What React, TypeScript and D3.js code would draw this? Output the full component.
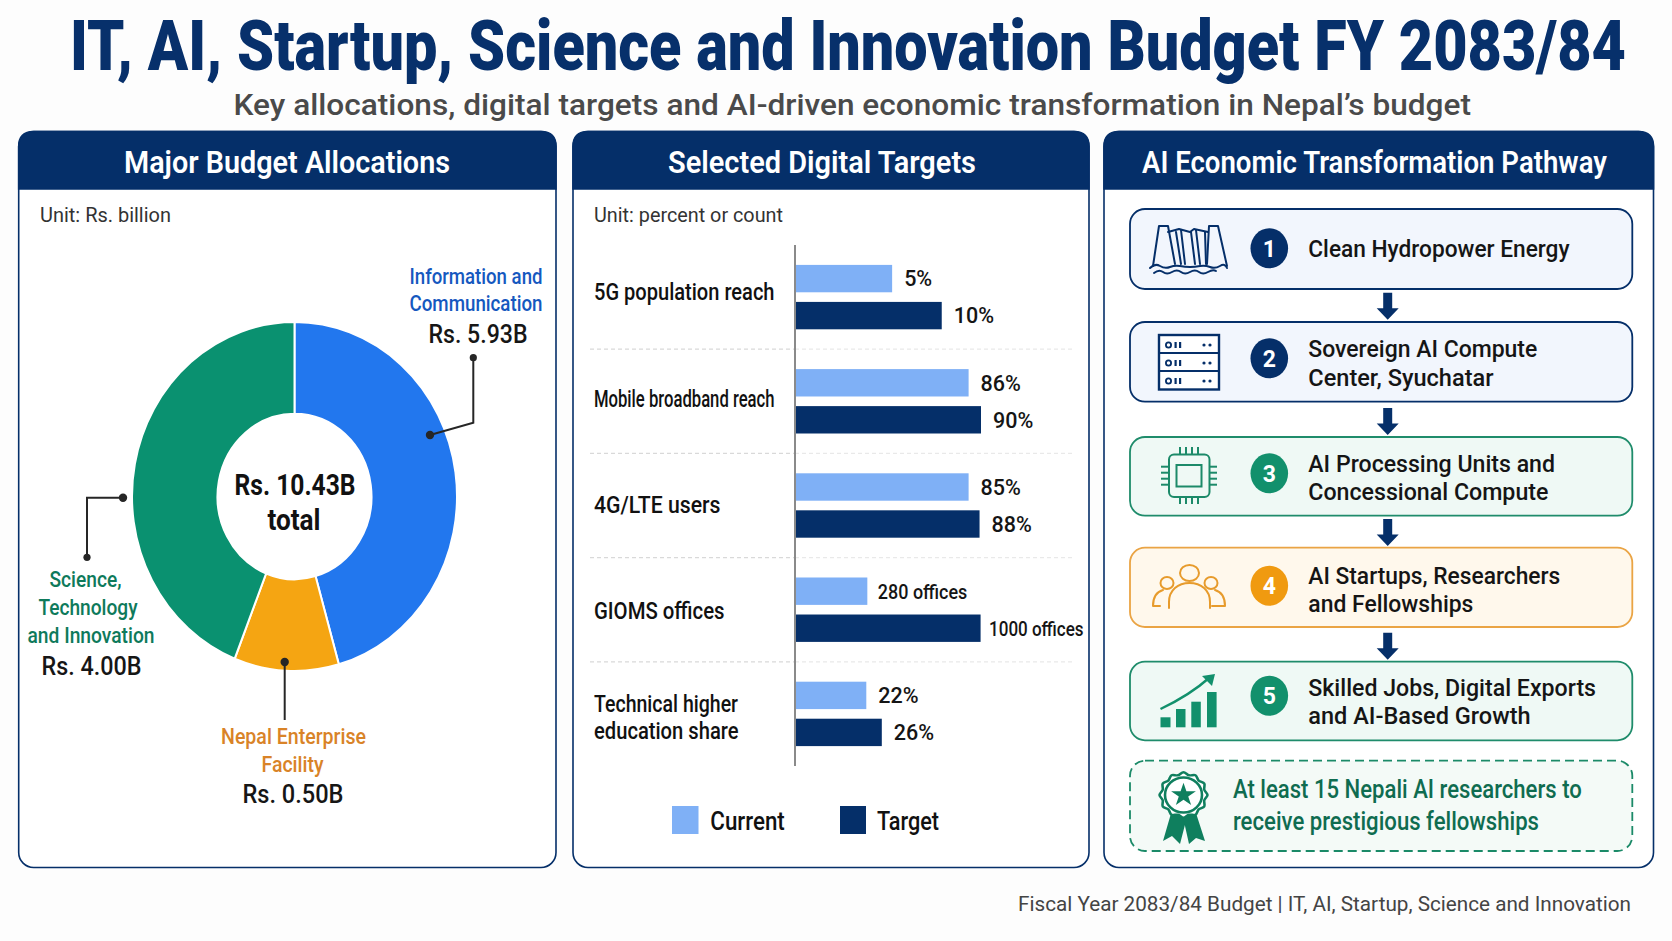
import * as d3 from 'd3';

const NAVY = '#052f69';
const LIGHT = '#7fb0f6';
const BLUE = '#2277ee';
const ORANGE = '#f5a512';
const GREEN = '#0a9170';
const INK = '#161616';
const FONT = 'Roboto, sans-serif';

// donut: the printed amounts, and the slice sizes as drawn in the picture
// (the drawn slices are not proportional to the printed amounts)
const sliceNames = ['Information and Communication', 'Nepal Enterprise Facility', 'Science, Technology and Innovation'];
const sliceAmounts = ['Rs. 5.93B', 'Rs. 0.50B', 'Rs. 4.00B'];
const sliceDrawnShares = [45.6, 10.4, 44.0];
const sliceColors = [BLUE, ORANGE, GREEN];

// bars: printed labels, and bar lengths as drawn in the picture
const categories = ['5G population reach', 'Mobile broadband reach', '4G/LTE users', 'GIOMS offices', 'Technical higher education share'];
const seriesNames = ['Current', 'Target'];
const currentLabels = ['5%', '86%', '85%', '280 offices', '22%'];
const targetLabels = ['10%', '90%', '88%', '1000 offices', '26%'];
const currentDrawn = [47, 84, 84, 35, 34.5];
const targetDrawn = [71, 90, 89.3, 89.8, 42];

const pathwaySteps = [
  ['Clean Hydropower Energy'],
  ['Sovereign AI Compute', 'Center, Syuchatar'],
  ['AI Processing Units and', 'Concessional Compute'],
  ['AI Startups, Researchers', 'and Fellowships'],
  ['Skilled Jobs, Digital Exports', 'and AI-Based Growth'],
];

type TProps = {
  x: number; y: number; w?: number; size: number; weight?: number; fill?: string;
  anchor?: 'start' | 'middle' | 'end'; children: string;
};

const T = ({ x, y, w, size, weight = 500, fill = INK, anchor = 'start', children }: TProps) => (
  <text
    x={x}
    y={y}
    fontFamily={FONT}
    fontSize={size}
    fontWeight={weight}
    fill={fill}
    textAnchor={anchor}
    textLength={w}
    lengthAdjust={w ? 'spacingAndGlyphs' : undefined}
  >
    {children}
  </text>
);

const Panel = ({ x0, x1, title, tx0, tx1 }: { x0: number; x1: number; title: string; tx0: number; tx1: number }) => {
  const top = 131.5;
  const head = 189;
  const bottom = 867.5;
  const r = 15;
  return (
    <g>
      <rect x={x0} y={top} width={x1 - x0} height={bottom - top} rx={r} fill="#fff" stroke={NAVY} strokeWidth={1.6} />
      <path
        d={`M${x0},${head}V${top + r}Q${x0},${top} ${x0 + r},${top}H${x1 - r}Q${x1},${top} ${x1},${top + r}V${head}Z`}
        fill={NAVY}
        stroke={NAVY}
        strokeWidth={1.6}
      />
      <T x={tx0} y={172.5} w={tx1 - tx0} size={32} weight={600} fill="#fff">{title}</T>
    </g>
  );
};

const line = d3.line();

const Callout = ({ pts }: { pts: [number, number][] }) => (
  <g>
    <path d={line(pts) ?? ''} fill="none" stroke="#262626" strokeWidth={2} />
    <circle cx={pts[0][0]} cy={pts[0][1]} r={4.2} fill="#262626" />
    <circle cx={pts[pts.length - 1][0]} cy={pts[pts.length - 1][1]} r={pts.length > 2 ? 3.6 : 0} fill="#262626" />
  </g>
);

const Donut = () => {
  const cx = 294.5;
  const cy = 496.5;
  const pie = d3.pie<number>().value((d) => d).sort(null);
  const arc = d3.arc<d3.PieArcDatum<number>>().innerRadius(77).outerRadius(162.5);
  const arcs = pie(sliceDrawnShares);
  return (
    <g>
      <T x={40} y={221.5} w={131} size={21} weight={400} fill="#333">Unit: Rs. billion</T>
      <g transform={`translate(${cx},${cy}) scale(1,1.074)`}>
        {arcs.map((a, i) => (
          <path key={sliceNames[i]} d={arc(a) ?? ''} fill={sliceColors[i]} stroke="#fff" strokeWidth={2} />
        ))}
      </g>
      <T x={295} y={495} w={121} anchor="middle" size={30} weight={700} fill="#111">Rs. 10.43B</T>
      <T x={294} y={529.5} w={53} anchor="middle" size={30} weight={700} fill="#111">total</T>

      <Callout pts={[[430, 435], [473.3, 422.7], [473.3, 357.7]]} />
      <Callout pts={[[123, 497.7], [87, 497.7], [87, 557.3]]} />
      <Callout pts={[[284.7, 662], [284.7, 720]]} />

      <T x={409.5} y={284} w={133} size={22} fill="#1558bf">Information and</T>
      <T x={409.5} y={311} w={133} size={22} fill="#1558bf">Communication</T>
      <T x={428.5} y={342.5} w={99} size={25.5} fill={INK}>{sliceAmounts[0]}</T>

      <T x={49.5} y={586.7} w={72} size={22} fill="#0e7a5b">Science,</T>
      <T x={38.5} y={615} w={99} size={22} fill="#0e7a5b">Technology</T>
      <T x={27.5} y={643} w={127} size={22} fill="#0e7a5b">and Innovation</T>
      <T x={41.5} y={675} w={100} size={25.5} fill={INK}>{sliceAmounts[2]}</T>

      <T x={221} y={744} w={145} size={22} fill="#d98327">Nepal Enterprise</T>
      <T x={261.5} y={771.7} w={62} size={22} fill="#d98327">Facility</T>
      <T x={242.5} y={803.3} w={101} size={25.5} fill={INK}>{sliceAmounts[1]}</T>
    </g>
  );
};

const Bars = () => {
  const axisX = 795;
  const x = d3.scaleLinear().domain([0, 90]).range([0, 186]);
  const y = d3.scaleBand().domain(categories).range([245, 766]);
  const inner = d3.scaleBand().domain(seriesNames).range([0, 64.4]).paddingInner(0.26);
  const groupPad = (y.bandwidth() - 64.4) / 2;
  const colors = [LIGHT, NAVY];
  const drawn = [currentDrawn, targetDrawn];
  const labels = [currentLabels, targetLabels];

  const catLines = [
    [{ t: '5G population reach', w: 180.5, y: 300 }],
    [{ t: 'Mobile broadband reach', w: 180.5, y: 407 }],
    [{ t: '4G/LTE users', w: 126.5, y: 512.7 }],
    [{ t: 'GIOMS offices', w: 130.5, y: 619 }],
    [{ t: 'Technical higher', w: 144, y: 711.7 }, { t: 'education share', w: 144.5, y: 739.3 }],
  ];
  const dividers = y.domain().slice(1).map((c) => y(c) ?? 0);

  return (
    <g>
      <T x={594} y={221.5} w={189} size={21} weight={400} fill="#333">Unit: percent or count</T>
      {dividers.map((d) => (
        <g key={d}>
          <line x1={590} x2={795} y1={d} y2={d} stroke="#d9d9d9" strokeWidth={1.2} strokeDasharray="4 3" />
          <line x1={795} x2={1075} y1={d} y2={d} stroke="#e9e9e9" strokeWidth={1.2} strokeDasharray="4 3" />
        </g>
      ))}
      {categories.map((c, i) => (
        <g key={c}>
          {catLines[i].map((l) => (
            <T key={l.t} x={594} y={l.y} w={l.w} size={23} fill="#111">{l.t}</T>
          ))}
          {seriesNames.map((s, k) => {
            const top = (y(c) ?? 0) + groupPad + (inner(s) ?? 0);
            const end = axisX + x(drawn[k][i]);
            const label = labels[k][i];
            const isOffice = label.includes('offices');
            return (
              <g key={s}>
                <rect x={axisX} y={top} width={x(drawn[k][i])} height={inner.bandwidth()} fill={colors[k]} />
                <T
                  x={end + (isOffice ? (k === 0 ? 10.5 : 8.5) : 12)}
                  y={top + inner.bandwidth() / 2 + 7.8}
                  w={isOffice ? (k === 0 ? 89.5 : 94.5) : undefined}
                  size={isOffice ? 20.5 : 21.5}
                  fill="#151515"
                >
                  {label}
                </T>
              </g>
            );
          })}
        </g>
      ))}
      <line x1={axisX} x2={axisX} y1={245} y2={766} stroke="#8a8a8a" strokeWidth={2} />
      <rect x={672} y={806} width={26.5} height={28} fill={LIGHT} />
      <T x={710.3} y={830} w={74.5} size={25} fill="#111">{seriesNames[0]}</T>
      <rect x={840} y={806} width={26} height={28} fill={NAVY} />
      <T x={877} y={830} w={62} size={25} fill="#111">{seriesNames[1]}</T>
    </g>
  );
};

const DamIcon = () => (
  <g fill="none" stroke={NAVY} strokeWidth={2} strokeLinejoin="round" strokeLinecap="round">
    <path d="M1153,266 L1159,226 H1168 L1175,264" />
    <path d="M1168,232 L1179,229 L1190,232 L1194,229 L1208,232" />
    <path d="M1227,266 L1218,226 H1209 L1207,264" />
    <path d="M1176,232 L1181,264 M1181,230 L1185,264 M1191,232 L1195,264 M1196,230 L1200,264 M1205,232 L1206,264" />
    <path d="M1150,268 q5,-5 10,-2 t10,1 t10,-1 t10,1 t10,-1 t10,1 t10,-1 t7,2" />
    <path d="M1154,273 q5,-4 9,-1 t9,0 t9,0 t9,0 t9,0 t9,0 t8,-1" />
  </g>
);

const ServerIcon = () => (
  <g>
    <rect x={1159} y={335} width={60} height={54.5} fill="#fff" stroke={NAVY} strokeWidth={2.4} />
    {[0, 1, 2].map((i) => (
      <g key={i} transform={`translate(0,${335 + i * 18})`}>
        {i > 0 && <line x1={1159} x2={1219} y1={0} y2={0} stroke={NAVY} strokeWidth={2.2} />}
        <circle cx={1168.5} cy={10} r={2.6} fill="none" stroke={NAVY} strokeWidth={1.8} />
        <rect x={1174.5} y={7} width={2.2} height={6} fill={NAVY} />
        <rect x={1179} y={7} width={2.2} height={6} fill={NAVY} />
        <circle cx={1204} cy={10} r={1.6} fill={NAVY} />
        <circle cx={1210} cy={10} r={1.6} fill={NAVY} />
      </g>
    ))}
  </g>
);

const ChipIcon = () => {
  const pins = [-9, -3, 3, 9];
  return (
    <g fill="none" stroke="#1c8a69" strokeWidth={2}>
      <rect x={1169} y={454.5} width={40.5} height={42.5} rx={5} />
      <rect x={1176.5} y={465} width={25} height={21.5} />
      {pins.map((p) => (
        <g key={p}>
          <line x1={1189 + p} x2={1189 + p} y1={447} y2={454} />
          <line x1={1189 + p} x2={1189 + p} y1={497} y2={504} />
          <line x1={1161} x2={1169} y1={475.7 + p} y2={475.7 + p} />
          <line x1={1209.5} x2={1217} y1={475.7 + p} y2={475.7 + p} />
        </g>
      ))}
    </g>
  );
};

const PeopleIcon = () => (
  <g fill="none" stroke="#e79b2c" strokeWidth={2} strokeLinecap="round">
    <ellipse cx={1189.5} cy={573} rx={9.5} ry={8} />
    <path d="M1169,608 V602 C1169,590 1178,583 1189.5,583 C1201,583 1210,590 1210,602 V608" />
    <ellipse cx={1167} cy={583} rx={6.5} ry={6} />
    <path d="M1153,606 H1160 M1153,606 C1153,598 1156,592 1163,590" />
    <ellipse cx={1211} cy={583} rx={6.5} ry={6} />
    <path d="M1225,606 H1212 M1225,606 C1225,598 1222,592 1215,590" />
  </g>
);

const GrowthIcon = () => (
  <g fill="#12906c">
    <rect x={1160.5} y={717.3} width={10} height={10} />
    <rect x={1176} y={709} width={9.5} height={18.3} />
    <rect x={1191.3} y={701.7} width={9.5} height={25.6} />
    <rect x={1207} y={692} width={9.6} height={35.3} />
    <path d="M1160.5,709 Q1190,695 1209,678" fill="none" stroke="#12906c" strokeWidth={2.4} />
    <path d="M1202,676 L1215,674 L1212,686 Z" />
  </g>
);

const BadgeIcon = () => {
  const n = 24;
  const pts: [number, number][] = d3.range(n).map((i) => [(i / n) * 2 * Math.PI, i % 2 ? 21.5 : 24]);
  const radial = d3.lineRadial().curve(d3.curveCardinalClosed);
  const star = d3.symbol().type(d3.symbolStar).size(190);
  return (
    <g>
      <path d="M1172,810 L1163,841 L1172,836 L1180,844 L1187,817 Z" fill="#0f7f5e" />
      <path d="M1195,810 L1205,841 L1196,838 L1189,844 L1183,817 Z" fill="#0f7f5e" />
      <g transform="translate(1183.5,795) scale(1,0.95)">
        <path d={radial(pts) ?? ''} fill="#fff" stroke="#0f7f5e" strokeWidth={2.6} />
        <circle r={18.5} fill="none" stroke="#0f7f5e" strokeWidth={2.6} />
        <path d={star() ?? ''} fill="#0f7f5e" />
      </g>
    </g>
  );
};

const Pathway = () => {
  const bx = 1130;
  const bw = 502.3;
  const boxes = [
    { y0: 209, y1: 289, fill: '#f2f6fd', stroke: NAVY, badge: NAVY, cy: 248.3 },
    { y0: 322, y1: 401.7, fill: '#f2f6fd', stroke: NAVY, badge: NAVY, cy: 358.3 },
    { y0: 437, y1: 515.7, fill: '#eff9f5', stroke: '#1f8c6b', badge: '#12906c', cy: 473.3 },
    { y0: 547.7, y1: 627, fill: '#fff8ec', stroke: '#eaa444', badge: '#f09a10', cy: 585.7 },
    { y0: 661.7, y1: 740.3, fill: '#eff9f5', stroke: '#1f8c6b', badge: '#12906c', cy: 695.7 },
  ];
  const stepText = [
    [{ w: 261.3, y: 256.7 }],
    [{ w: 229, y: 357.3 }, { w: 185.2, y: 385.7 }],
    [{ w: 246.7, y: 471.7 }, { w: 240.1, y: 500 }],
    [{ w: 252, y: 584 }, { w: 165.1, y: 612 }],
    [{ w: 287.7, y: 696 }, { w: 222.3, y: 724.3 }],
  ];
  const arrows = [292.7, 408, 519, 632.7];
  return (
    <g>
      {boxes.map((b, i) => (
        <g key={i}>
          <rect x={bx} y={b.y0} width={bw} height={b.y1 - b.y0} rx={15} fill={b.fill} stroke={b.stroke} strokeWidth={1.8} />
          <ellipse cx={1269.3} cy={b.cy} rx={18.8} ry={20} fill={b.badge} />
          <T x={1269.3} y={b.cy + 8.5} anchor="middle" size={23} weight={700} fill="#fff">{String(i + 1)}</T>
          {pathwaySteps[i].map((t, k) => (
            <T key={t} x={1308.3} y={stepText[i][k].y} w={stepText[i][k].w} size={23.5} fill="#151515">{t}</T>
          ))}
        </g>
      ))}
      {arrows.map((a) => (
        <path
          key={a}
          d={`M1383.2,${a} h9 v15.5 h6.5 l-11,11.5 l-11,-11.5 h6.5 Z`}
          fill={NAVY}
        />
      ))}
      <DamIcon />
      <ServerIcon />
      <ChipIcon />
      <PeopleIcon />
      <GrowthIcon />
      <rect x={bx} y={760.7} width={bw} height={90.3} rx={15} fill="#f4faf7" stroke="#1b8a68" strokeWidth={1.8} strokeDasharray="9 5" />
      <BadgeIcon />
      <T x={1233} y={798.3} w={348.8} size={25} fill="#0f6c50">At least 15 Nepali AI researchers to</T>
      <T x={1233} y={830} w={306} size={25} fill="#0f6c50">receive prestigious fellowships</T>
    </g>
  );
};

export default function App() {
  return (
    <svg
      width={1672}
      height={941}
      viewBox="0 0 1672 941"
      style={{ position: 'absolute', left: 0, top: 0, background: '#fdfdfd' }}
    >
      <T x={70} y={70} w={1556} size={70} weight={900} fill="#07306b">IT, AI, Startup, Science and Innovation Budget FY 2083/84</T>
      <T x={233.5} y={115} w={1237.5} size={30} weight={500} fill="#4a4a4a">Key allocations, digital targets and AI-driven economic transformation in Nepal’s budget</T>

      <Panel x0={18.7} x1={556} title="Major Budget Allocations" tx0={124} tx1={450} />
      <Panel x0={573} x1={1089} title="Selected Digital Targets" tx0={668} tx1={976} />
      <Panel x0={1104} x1={1653.5} title="AI Economic Transformation Pathway" tx0={1142} tx1={1607} />

      <Donut />
      <Bars />
      <Pathway />

      <T x={1018} y={910.5} w={613} size={19.5} weight={400} fill="#444">Fiscal Year 2083/84 Budget  |  IT, AI, Startup, Science and Innovation</T>
    </svg>
  );
}
